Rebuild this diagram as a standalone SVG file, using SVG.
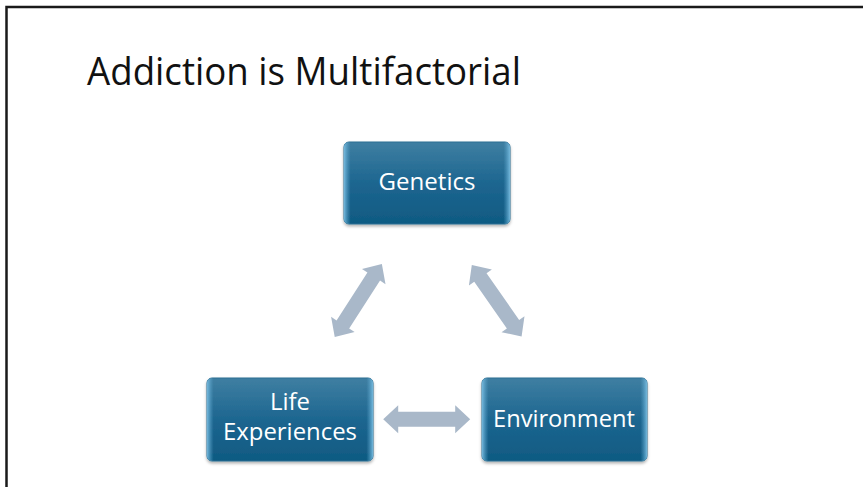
<svg xmlns="http://www.w3.org/2000/svg" width="863" height="487" viewBox="0 0 863 487">
<defs>
<linearGradient id="gFill" x1="0" y1="0" x2="0" y2="1">
<stop offset="0" stop-color="#3f7fa2"/>
<stop offset="0.5" stop-color="#1d6690"/>
<stop offset="1" stop-color="#0f5a82"/>
</linearGradient>
<linearGradient id="gEdge" x1="0" y1="0" x2="1" y2="0">
<stop offset="0" stop-color="#7cc0e4" stop-opacity="0.9"/>
<stop offset="0.04" stop-color="#5aa4cc" stop-opacity="0"/>
<stop offset="0.96" stop-color="#5aa4cc" stop-opacity="0"/>
<stop offset="1" stop-color="#7cc0e4" stop-opacity="0.9"/>
</linearGradient>
<filter id="sh" x="-10%" y="-10%" width="120%" height="130%">
<feDropShadow dx="0" dy="2" stdDeviation="1.5" flood-color="#000" flood-opacity="0.3"/>
</filter>
<path id="arr" d="M -43.5,0 L -28.5,-14 L -28.5,-7.5 L 28.5,-7.5 L 28.5,-14 L 43.5,0 L 28.5,14 L 28.5,7.5 L -28.5,7.5 L -28.5,14 Z"/>
</defs>
<style>
.box{fill:url(#gFill);stroke:#2f6f92;stroke-width:1;filter:url(#sh)}
.edge{fill:url(#gEdge)}
.lbl{font-family:"Open Sans","Noto Sans",sans-serif;font-size:23px;fill:#ffffff;text-anchor:middle}
.arrow{fill:#a9b8c9}
.title{font-family:"Open Sans","Noto Sans",sans-serif;font-size:38px;fill:#111111}
</style>
<rect x="0" y="0" width="863" height="487" fill="#ffffff"/>
<path d="M 6.5,487 L 6.5,7 L 863,7" fill="none" stroke="#1a1a1a" stroke-width="2.5"/>
<text class="title" x="87" y="84.5" textLength="434" lengthAdjust="spacingAndGlyphs">Addiction is Multifactorial</text>
<g id="connectors">
<use href="#arr" class="arrow" transform="translate(358.3,300.5) rotate(-57.2)"/>
<use href="#arr" class="arrow" transform="translate(496.7,300.8) rotate(55.1)"/>
<use href="#arr" class="arrow" transform="translate(426.7,419.3)"/>
</g>
<g id="genetics">
<rect class="box" x="344" y="142" width="166" height="82" rx="5"/>
<rect class="edge" x="344" y="142" width="166" height="82" rx="5"/>
<text class="lbl" x="427" y="190" textLength="97" lengthAdjust="spacingAndGlyphs">Genetics</text>
</g>
<g id="life-experiences">
<rect class="box" x="207" y="378" width="166" height="83" rx="5"/>
<rect class="edge" x="207" y="378" width="166" height="83" rx="5"/>
<text class="lbl" x="290" y="410" textLength="40" lengthAdjust="spacingAndGlyphs">Life</text>
<text class="lbl" x="290" y="440" textLength="134" lengthAdjust="spacingAndGlyphs">Experiences</text>
</g>
<g id="environment">
<rect class="box" x="482" y="378" width="165" height="83" rx="5"/>
<rect class="edge" x="482" y="378" width="165" height="83" rx="5"/>
<text class="lbl" x="564" y="427" textLength="142" lengthAdjust="spacingAndGlyphs">Environment</text>
</g>
</svg>
